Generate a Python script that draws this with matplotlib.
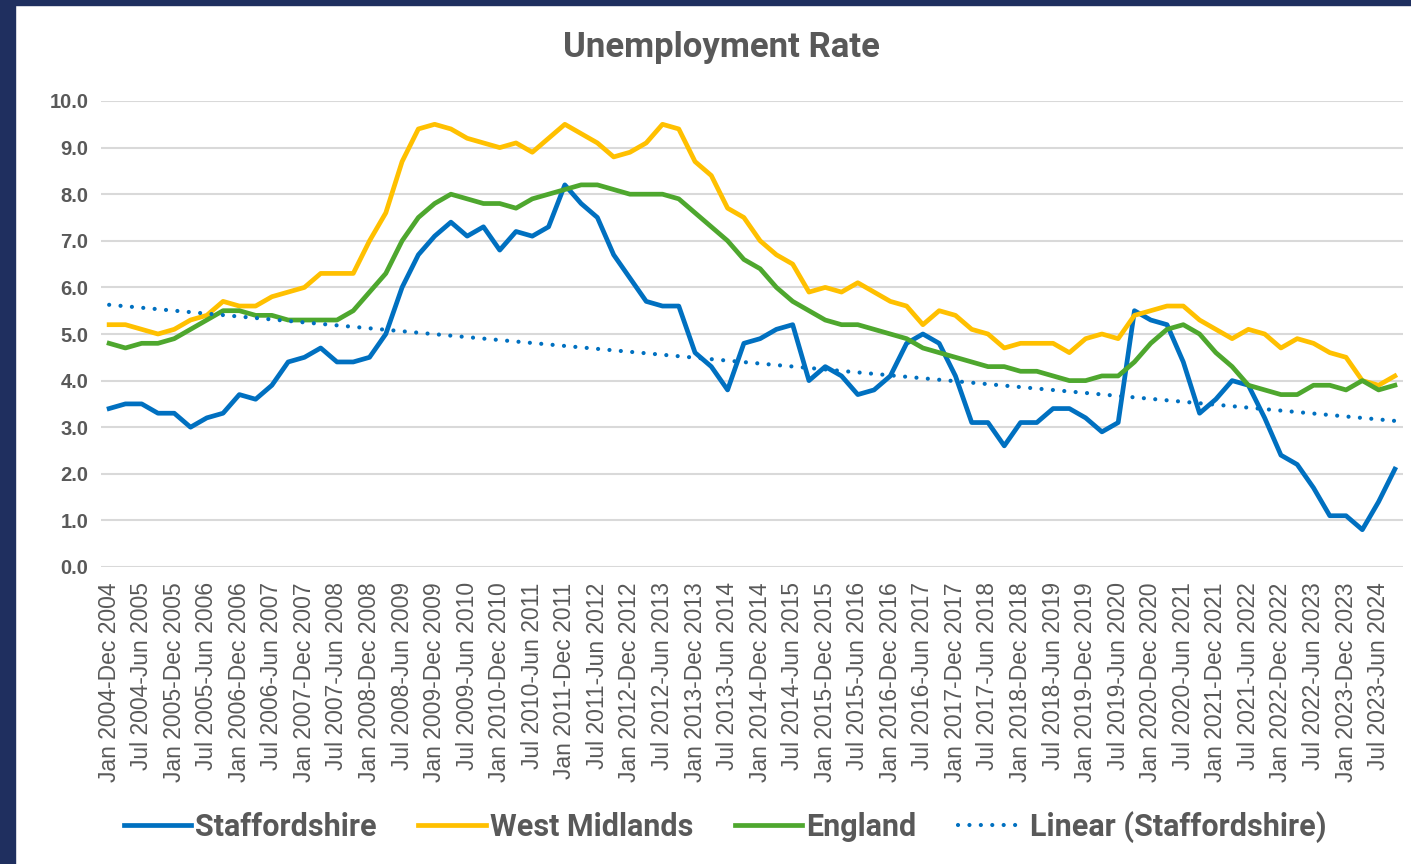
import numpy as np
from matplotlib import pyplot as plt
from matplotlib.patches import Rectangle

# Rolling annual periods, one every quarter from Jan 2004-Dec 2004 to Oct 2023-Sep 2024
start_months = ['Jan', 'Apr', 'Jul', 'Oct']
end_months = ['Dec', 'Mar', 'Jun', 'Sep']
periods = []
for year in range(2004, 2024):
    for q in range(4):
        end_year = year if q == 0 else year + 1
        periods.append(f'{start_months[q]} {year}-{end_months[q]} {end_year}')

staffordshire = [3.4, 3.5, 3.5, 3.3, 3.3, 3.0, 3.2, 3.3, 3.7, 3.6, 3.9, 4.4, 4.5, 4.7, 4.4, 4.4, 4.5, 5.0,
                 6.0, 6.7, 7.1, 7.4, 7.1, 7.3, 6.8, 7.2, 7.1, 7.3, 8.2, 7.8, 7.5, 6.7, 6.2, 5.7, 5.6, 5.6, 4.6,
                 4.3, 3.8, 4.8, 4.9, 5.1, 5.2, 4.0, 4.3, 4.1, 3.7, 3.8, 4.1, 4.8, 5.0, 4.8, 4.1, 3.1, 3.1, 2.6, 3.1,
                 3.1, 3.4, 3.4, 3.2, 2.9, 3.1, 5.5, 5.3, 5.2, 4.4, 3.3, 3.6, 4.0, 3.9, 3.2, 2.4, 2.2, 1.7, 1.1, 1.1,
                 0.8, 1.4, 2.1]
west_midlands = [5.2, 5.2, 5.1, 5.0, 5.1, 5.3, 5.4, 5.7, 5.6, 5.6, 5.8, 5.9, 6.0, 6.3, 6.3, 6.3, 7.0, 7.6,
                 8.7, 9.4, 9.5, 9.4, 9.2, 9.1, 9.0, 9.1, 8.9, 9.2, 9.5, 9.3, 9.1, 8.8, 8.9, 9.1, 9.5, 9.4, 8.7,
                 8.4, 7.7, 7.5, 7.0, 6.7, 6.5, 5.9, 6.0, 5.9, 6.1, 5.9, 5.7, 5.6, 5.2, 5.5, 5.4, 5.1, 5.0, 4.7, 4.8,
                 4.8, 4.8, 4.6, 4.9, 5.0, 4.9, 5.4, 5.5, 5.6, 5.6, 5.3, 5.1, 4.9, 5.1, 5.0, 4.7, 4.9, 4.8, 4.6, 4.5,
                 4.0, 3.9, 4.1]
england = [4.8, 4.7, 4.8, 4.8, 4.9, 5.1, 5.3, 5.5, 5.5, 5.4, 5.4, 5.3, 5.3, 5.3, 5.3, 5.5, 5.9, 6.3,
           7.0, 7.5, 7.8, 8.0, 7.9, 7.8, 7.8, 7.7, 7.9, 8.0, 8.1, 8.2, 8.2, 8.1, 8.0, 8.0, 8.0, 7.9, 7.6,
           7.3, 7.0, 6.6, 6.4, 6.0, 5.7, 5.5, 5.3, 5.2, 5.2, 5.1, 5.0, 4.9, 4.7, 4.6, 4.5, 4.4, 4.3, 4.3, 4.2,
           4.2, 4.1, 4.0, 4.0, 4.1, 4.1, 4.4, 4.8, 5.1, 5.2, 5.0, 4.6, 4.3, 3.9, 3.8, 3.7, 3.7, 3.9, 3.9, 3.8,
           4.0, 3.8, 3.9]

BLUE = '#0070C0'
GOLD = '#FFC000'
GREEN = '#4EA72E'
GREY_TXT = '#595959'
NARROW = ['Liberation Sans Narrow', 'Roboto', 'DejaVu Sans']

x = np.arange(len(periods))

# linear trend of Staffordshire
slope, intercept = np.polyfit(x, staffordshire, 1)
trend = slope * x + intercept

fig = plt.figure(figsize=(14.11, 8.64), dpi=100)
fig.patch.set_facecolor('white')
# navy frame on the left and top
fig.patches.append(Rectangle((0, 0), 15 / 1411, 1, transform=fig.transFigure, color='#1F2F5F', zorder=0))
fig.patches.append(Rectangle((0, 1 - 5 / 864), 1, 5 / 864, transform=fig.transFigure, color='#1F2F5F', zorder=0))

ax = fig.add_axes([101 / 1411, 1 - 567 / 864, (1403 - 101) / 1411, (567 - 101) / 864])

ax.plot(x, staffordshire, color=BLUE, lw=3.4, solid_joinstyle='round', label='Staffordshire', zorder=3)
ax.plot(x, west_midlands, color=GOLD, lw=3.4, solid_joinstyle='round', label='West Midlands', zorder=4)
ax.plot(x, england, color=GREEN, lw=3.4, solid_joinstyle='round', label='England', zorder=5)
ax.plot(x, trend, color=BLUE, lw=3, linestyle=(0, (0.01, 2.73)), dash_capstyle='round',
        label='Linear (Staffordshire)', zorder=6)

ax.set_xlim(-0.5, len(periods) - 0.5)
ax.set_ylim(0, 10)
ax.set_yticks(np.arange(0, 10.5, 1))
ax.set_yticklabels([f'{v:.1f}' for v in np.arange(0, 10.5, 1)], fontsize=14.5, fontweight='bold',
                   color=GREY_TXT, family='Liberation Sans')
ax.set_xticks(x[::2])
ax.set_xticklabels(periods[::2], rotation=90, fontsize=16.5, color=GREY_TXT, family='Liberation Sans')
ax.tick_params(axis='both', length=0)
ax.tick_params(axis='y', pad=9)
ax.tick_params(axis='x', pad=11)

ax.grid(axis='y', color='#D9D9D9', lw=1.5, zorder=0)
ax.set_axisbelow(True)
for s in ax.spines.values():
    s.set_visible(False)

fig.text(721 / 1411, 1 - 47 / 864, 'Unemployment Rate', ha='center', va='center',
         fontsize=25, fontweight='bold', color=GREY_TXT, family=NARROW)

handles, labels = ax.get_legend_handles_labels()
leg = fig.legend(handles, labels, loc='center', bbox_to_anchor=(725 / 1411, 1 - 827 / 864), ncol=4,
                 frameon=False, handlelength=2.2, handletextpad=0.15, columnspacing=1.35,
                 prop={'family': NARROW, 'weight': 'bold', 'size': 22})
for t in leg.get_texts():
    t.set_color(GREY_TXT)

fig.savefig('out.png', dpi=100)
